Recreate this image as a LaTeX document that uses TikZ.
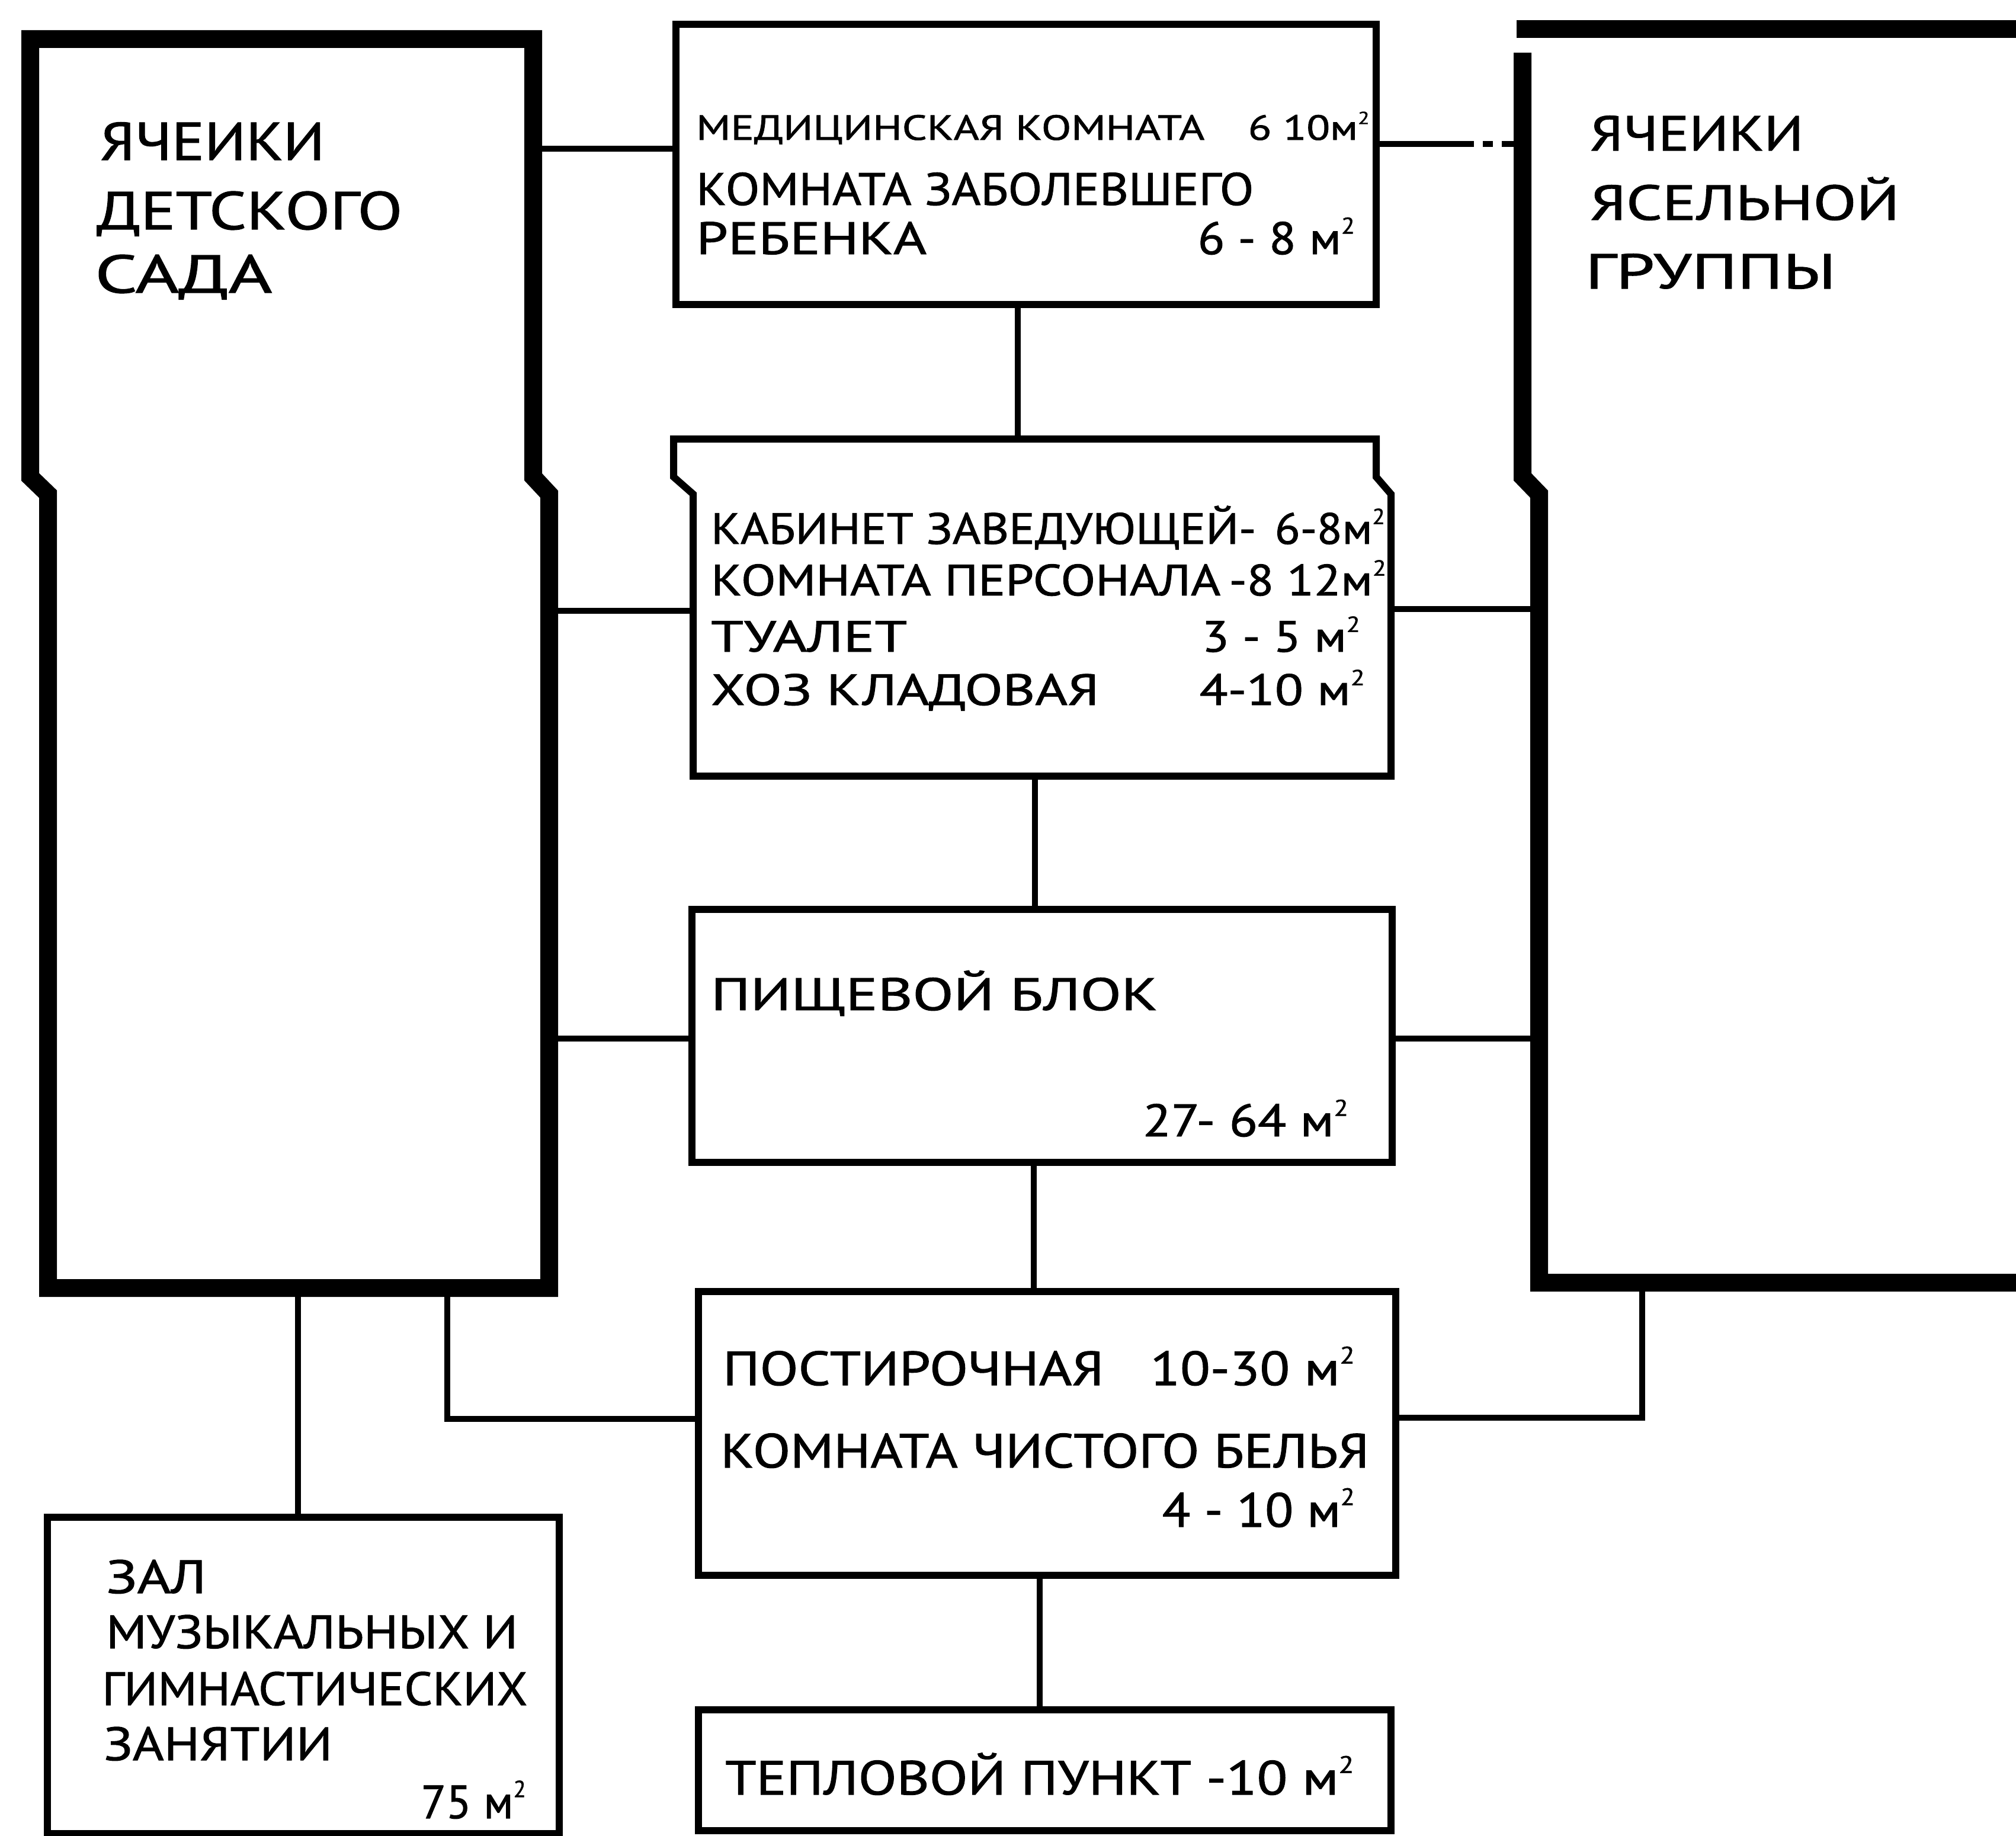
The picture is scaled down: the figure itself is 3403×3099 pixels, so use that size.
\documentclass[tikz,border=0pt]{standalone}
\usepackage{fontspec}
\setmainfont{PT Sans}[FakeBold=1.2]
\usepackage{graphicx}
\newcommand\fitw[2]{\resizebox{#1pt}{\height}{#2}}
\newcommand\sqm{м\raisebox{0.45em}{\scalebox{0.5}{2}}}
\begin{document}
\begin{tikzpicture}[x=1pt,y=-1pt,
  thickline/.style={line width=30pt, line join=miter},
  box/.style={draw, line width=12pt, inner sep=0pt, outer sep=0pt},
  ghost/.style={draw=none, inner sep=0pt, outer sep=0pt},
  conn/.style={line width=10pt},
  lbl/.style={anchor=base west, inner sep=0pt},
  num/.style={anchor=base east, inner sep=0pt},
  fA/.style={font=\fontsize{90}{90}\selectfont},
  fB/.style={font=\fontsize{83}{83}\selectfont},
  fC/.style={font=\fontsize{59}{59}\selectfont},
  fD/.style={font=\fontsize{77}{77}\selectfont},
  fE/.style={font=\fontsize{74}{74}\selectfont},
  fF/.style={font=\fontsize{81}{81}\selectfont},
  fG/.style={font=\fontsize{79}{79}\selectfont}]
\fill[white] (0,0) rectangle (3403,3099);
\useasboundingbox (0,0) rectangle (3403,3099);

% ---------- boxes ----------
\node[ghost, minimum width=846pt, minimum height=2108pt] (lb) at (504,1120) {};
\draw[thickline] (51,66) -- (900,66) -- (900,805) -- (927,834) -- (927,2174)
   -- (81,2174) -- (81,834) -- (51,805) -- cycle;

\node[ghost, minimum width=852pt, minimum height=2116pt] (rb) at (3024,1107) {};
\draw[thickline] (2560,49) -- (3450,49);
\draw[thickline] (2570,89) -- (2570,805) -- (2598,834) -- (2598,2165) -- (3450,2165);

\node[box, minimum width=1182pt, minimum height=473pt] (med) at (1732,277.5) {};
\node[ghost, minimum width=1178pt, minimum height=569pt] (admin) at (1759,1025.5) {};
\draw[line width=12pt, line join=miter] (1137,741) -- (2323,741) -- (2323,805) -- (2348,834)
   -- (2348,1310) -- (1170,1310) -- (1170,834) -- (1137,805) -- cycle;
\node[box, minimum width=1182pt, minimum height=427pt] (food) at (1759,1748.5) {};
\node[box, minimum width=1177pt, minimum height=479pt] (post) at (1767.5,2419.5) {};
\node[box, minimum width=1169pt, minimum height=204pt] (teplo) at (1763.5,2988) {};
\node[box, minimum width=864pt, minimum height=534pt] (zal) at (512,2828) {};

% ---------- connection points on the jogged outlines ----------
\coordinate (lbA) at (900,251);
\coordinate (rbA) at (2570,243);

% ---------- connectors ----------
\draw[conn] (lbA) -- (lbA -| med.west);
\draw[conn, dash pattern=on 165pt off 15pt on 17pt off 15pt on 80pt] (med.east |- rbA) -- (rbA);
\draw[conn] (med.south -| 1718,0) -- (1718,741);
\draw[conn] (lb.east |- 0,1031) -- (admin.west |- 0,1031);
\draw[conn] (admin.east |- 0,1028) -- (rb.west |- 0,1028);
\draw[conn] (admin.south -| 1747,0) -- (food.north -| 1747,0);
\draw[conn] (lb.east |- 0,1753) -- (food.west |- 0,1753);
\draw[conn] (food.east |- 0,1753) -- (rb.west |- 0,1753);
\draw[conn] (food.south -| 1745,0) -- (post.north -| 1745,0);
\draw[conn] (lb.south -| 755,0) |- (post.west |- 0,2395);
\draw[conn] (post.east |- 0,2393) -| (rb.south -| 2772,0);
\draw[conn] (post.south -| 1755,0) -- (teplo.north -| 1755,0);
\draw[conn] (lb.south -| 503,0) -- (zal.north -| 503,0);

% ---------- texts: left cell ----------
\node[lbl, fA] (lb1) at (169,270) {\fitw{379}{ЯЧЕИКИ}};
\node[lbl, fA] (lb2) at (163,387) {\fitw{516}{ДЕТСКОГО}};
\node[lbl, fA] (lb3) at (160,494) {\fitw{299}{САДА}};

% ---------- texts: right cell ----------
\node[lbl, fB] (rb1) at (2684,254) {\fitw{360}{ЯЧЕИКИ}};
\node[lbl, fB] (rb2) at (2684,371) {\fitw{522}{ЯСЕЛЬНОЙ}};
\node[lbl, fB] (rb3) at (2676,487) {\fitw{423}{ГРУППЫ}};

% ---------- medical ----------
\node[lbl, fC] (m1) at (1175,236) {\fitw{858}{МЕДИЦИНСКАЯ КОМНАТА}};
\node[num, fC] (m1n) at (2312,236) {\fitw{205}{6 10\sqm}};
\node[lbl, fD] (m2) at (1175,346) {\fitw{941}{КОМНАТА ЗАБОЛЕВШЕГО}};
\node[lbl, fD] (m3) at (1175,429) {\fitw{389}{РЕБЕНКА}};
\node[num, fD] (m3n) at (2287,429) {\fitw{265}{6 - 8 \sqm}};

% ---------- administration ----------
\node[lbl, fE] (a1) at (1200,918) {\fitw{920}{КАБИНЕТ ЗАВЕДУЮЩЕЙ-}};
\node[num, fE] (a1n) at (2338,918) {\fitw{186}{6-8\sqm}};
\node[lbl, fE] (a2) at (1200,1005) {\fitw{860}{КОМНАТА ПЕРСОНАЛА}};
\node[num, fE] (a2n) at (2340,1005) {\fitw{265}{-8 12\sqm}};
\node[lbl, fE] (a3) at (1200,1100) {\fitw{331}{ТУАЛЕТ}};
\node[num, fE] (a3n) at (2296,1100) {\fitw{267}{3 - 5 \sqm}};
\node[lbl, fE] (a4) at (1200,1190) {\fitw{655}{ХОЗ КЛАДОВАЯ}};
\node[num, fE] (a4n) at (2304,1190) {\fitw{279}{4-10 \sqm}};

% ---------- food block ----------
\node[lbl, fD] (f1) at (1200,1705) {\fitw{754}{ПИЩЕВОЙ БЛОК}};
\node[num, fD] (f1n) at (2276,1918) {\fitw{347}{27- 64 \sqm}};

% ---------- laundry ----------
\node[lbl, fF] (p1) at (1220,2338) {\fitw{643}{ПОСТИРОЧНАЯ}};
\node[num, fF] (p1n) at (2287,2338) {\fitw{345}{10-30 \sqm}};
\node[lbl, fF] (p2) at (1216,2477) {\fitw{1095}{КОМНАТА ЧИСТОГО БЕЛЬЯ}};
\node[num, fF] (p2n) at (2287,2577) {\fitw{325}{4 - 10 \sqm}};

% ---------- heating ----------
\node[lbl, fF] (h1) at (1224,3029) {\fitw{1061}{ТЕПЛОВОЙ ПУНКТ -10 \sqm}};

% ---------- hall ----------
\node[lbl, fG] (z1) at (179,2689) {\fitw{169}{ЗАЛ}};
\node[lbl, fG] (z2) at (179,2782) {\fitw{695}{МУЗЫКАЛЬНЫХ И}};
\node[lbl, fG] (z3) at (172,2878) {\fitw{718}{ГИМНАСТИЧЕСКИХ}};
\node[lbl, fG] (z4) at (175,2971) {\fitw{386}{ЗАНЯТИИ}};
\node[num, fG] (z5) at (888,3069) {\fitw{177}{75 \sqm}};
\end{tikzpicture}
\end{document}
